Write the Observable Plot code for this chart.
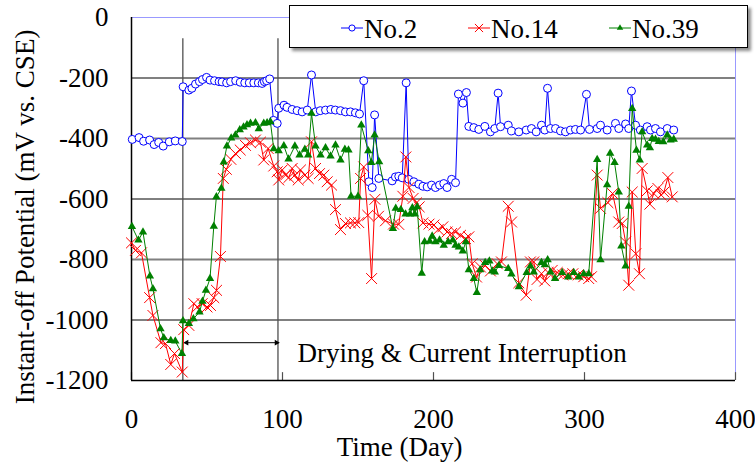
<!DOCTYPE html>
<html>
<head>
<meta charset="utf-8">
<script src="https://cdn.jsdelivr.net/npm/d3@7"></script>
<script src="https://cdn.jsdelivr.net/npm/@observablehq/plot@0.6"></script>
<style>
  html, body { margin: 0; padding: 0; background: #fff; }
  #wrap { position: relative; width: 755px; height: 465px; font-family: "Liberation Serif", "Times New Roman", serif; }
  #legend { position: absolute; left: 289px; top: 5px; width: 457px; height: 41px; background: #fff; border: 1px solid #000; box-shadow: 3px 3px 3px rgba(0,0,0,0.45); }
</style>
</head>
<body>
<div id="wrap"></div>
<script>
// ---- data (day, instant-off potential mV) ----
const seriesNames = ["No.2", "No.14", "No.39"];
const seriesColors = ["#0000ff", "#ff0000", "#008000"];
const xTicks = [0, 100, 200, 300, 400];
const yTicks = [0, -200, -400, -600, -800, -1000, -1200];
const markerDays = [34, 97];
const arrowDays = [36.5, 96];
const arrowLevel = -1075;
const annotation = "Drying & Current Interruption";
const xTitle = "Time (Day)";
const yTitle = "Instant-off Potential (mV vs. CSE)";

const no2 = [[0.5,-403],[5,-397],[8,-409],[12,-405],[15,-420],[18,-413],[21,-425],[25,-411],[29,-408],[33.6,-410],[34.2,-229],[38,-240],[40,-234],[42.4,-220],[45,-212],[47,-205],[49.7,-198],[52,-207],[55,-209],[58,-212],[60,-213],[63,-216],[65.6,-212],[69,-209],[72,-214],[75,-216],[78,-216],[81,-216],[84,-216],[86.5,-218],[88,-212],[89.5,-209],[91.5,-203],[94,-340],[96.5,-350],[97.5,-300],[101,-290],[103,-297],[106.4,-304],[109.7,-308],[113,-312],[116.4,-306],[119.2,-190],[122,-312],[125,-308],[128.5,-306],[132,-304],[135,-306],[138.4,-308],[141.7,-312],[145,-312],[148.3,-315],[151,-319],[153.8,-209],[157.2,-543],[159.4,-562],[161,-322],[163.8,-532],[172.6,-540],[174.8,-527],[177,-525],[179.3,-530],[181.9,-216],[183.6,-535],[187,-543],[190.3,-551],[193,-558],[195.8,-560],[198.7,-554],[201.3,-562],[204,-554],[206.8,-549],[209,-562],[212,-535],[214.6,-546],[216.5,-253],[219.5,-283],[221.8,-248],[223.4,-360],[226.7,-364],[230,-370],[234,-360],[237.7,-378],[240.6,-367],[242.8,-250],[244.4,-361],[249.5,-356],[251.7,-375],[256.5,-378],[261.4,-372],[264.9,-367],[268,-378],[271.5,-356],[273.7,-372],[275.5,-234],[277.5,-367],[280.8,-367],[284.1,-375],[287.4,-378],[290.7,-372],[294,-370],[297.4,-372],[301.3,-254],[303.3,-370],[308.4,-367],[310.6,-356],[315,-372],[320.5,-350],[322.7,-367],[327.2,-352],[329.3,-367],[331.1,-243],[333.8,-356],[337,-372],[341.5,-361],[343.7,-372],[347,-367],[350.3,-378],[354.8,-367],[359.1,-372]];

const no14 = [[0,-745],[2.6,-770],[6.6,-778],[12,-926],[14.2,-985],[19.5,-1075],[22.5,-1078],[26,-1147],[28.5,-1111],[33.6,-1172],[34.6,-1032],[38,-1018],[41.3,-946],[43.5,-957],[46.8,-946],[50,-957],[52.3,-952],[54.5,-926],[56.3,-902],[58.9,-790],[60.8,-532],[62.8,-502],[65.8,-469],[68.9,-450],[72,-438],[75.5,-423],[78.8,-414],[82.1,-405],[85.4,-412],[87.6,-471],[90.5,-433],[94.2,-491],[96.5,-510],[97.5,-537],[99.8,-504],[102,-521],[104.2,-529],[106.4,-499],[108.2,-521],[110.4,-537],[111.9,-504],[114.8,-521],[117,-532],[119.2,-411],[121.9,-499],[124.5,-516],[127.4,-521],[129.6,-543],[132.5,-554],[135.1,-635],[138.4,-701],[141.7,-681],[145,-679],[147.9,-679],[150.5,-678],[151.7,-532],[153.8,-494],[156.5,-654],[159,-863],[161.2,-601],[163.6,-657],[168.2,-672],[173.5,-683],[177,-684],[179.7,-591],[181.7,-461],[183.8,-562],[186.5,-598],[188.7,-613],[190.5,-626],[193,-679],[197,-683],[200.3,-686],[203.1,-701],[206.2,-692],[209,-709],[212,-714],[214.6,-709],[217.9,-720],[221.2,-731],[223.4,-725],[225.6,-814],[228.5,-858],[231.1,-825],[234.4,-820],[237.7,-838],[242.2,-814],[245,-808],[249.5,-624],[251.7,-676],[256.5,-877],[261.4,-918],[264.2,-808],[266.4,-808],[268.6,-866],[271.5,-847],[273.7,-871],[275.9,-843],[278.6,-836],[281.9,-843],[285.6,-851],[289.2,-847],[292.3,-847],[295.8,-851],[299.5,-857],[302.8,-863],[304.6,-857],[308.4,-521],[310.6,-631],[315.5,-612],[318.6,-582],[322.7,-676],[325,-681],[327.2,-742],[329.3,-885],[331.6,-577],[334,-781],[336.4,-847],[338.2,-499],[341.5,-573],[343.3,-617],[345.9,-582],[348.6,-565],[350.8,-587],[352.6,-577],[355.2,-529],[358.1,-593]];

const no39 = [[0.3,-691],[4.6,-736],[7.6,-709],[12.2,-855],[14.2,-897],[19.2,-1029],[21.4,-1059],[26,-1068],[29,-1070],[33.4,-1111],[34.1,-1003],[38,-1012],[41,-996],[45,-974],[47,-938],[49.3,-902],[52,-863],[54.5,-690],[56.2,-593],[59.5,-565],[61.1,-478],[63.2,-425],[66,-399],[68.8,-389],[71.7,-371],[74.2,-362],[76.5,-355],[78.8,-350],[82.1,-348],[84.3,-368],[87.6,-350],[89.8,-348],[92,-345],[94.2,-434],[97.5,-441],[100.9,-424],[104,-468],[108.2,-425],[111.3,-455],[114.8,-436],[117,-455],[119.2,-317],[121.9,-425],[125.2,-455],[128.5,-431],[131.8,-458],[135.1,-422],[138.4,-471],[141.3,-436],[143.7,-438],[145.4,-591],[150,-591],[152.2,-356],[156.8,-441],[158.8,-480],[161,-389],[164,-477],[173.1,-698],[175,-631],[178.4,-635],[181.5,-650],[184.5,-650],[186,-629],[187.6,-650],[189.2,-626],[192.2,-846],[194.1,-742],[197.5,-740],[199.1,-723],[201.3,-742],[204,-736],[206.8,-753],[209.7,-742],[212.8,-736],[214.6,-753],[216.8,-759],[219.4,-772],[221.4,-742],[223.4,-834],[226.7,-863],[228.7,-909],[230.9,-834],[234.2,-810],[237,-805],[238.9,-838],[240.6,-842],[243.3,-820],[249.5,-830],[251.6,-848],[256.5,-890],[261.7,-843],[264.2,-822],[266.4,-842],[271.5,-810],[273.7,-818],[275.6,-801],[277.5,-842],[280.5,-863],[285.2,-843],[289.2,-858],[292.9,-843],[296.2,-858],[299.5,-847],[302.8,-847],[308.4,-470],[310.6,-801],[315,-553],[317,-449],[319.9,-480],[322.7,-577],[324.4,-756],[327.2,-822],[329.3,-624],[331.6,-301],[334.4,-439],[336.6,-471],[338.2,-378],[341.5,-422],[343.3,-431],[344.8,-400],[347,-403],[349.2,-410],[352.1,-411],[354.8,-389],[357,-405],[359.1,-403]];

// ---- build ----
const FONT = "'Liberation Serif', 'Times New Roman', serif";
const FS = 27;
const toRows = (arr) => arr.map(([day, v]) => ({day, v}));
const s2 = toRows(no2), s14 = toRows(no14), s39 = toRows(no39);
const gridVals = yTicks.filter(v => v !== 0 && v !== -1200 && v !== -600);

const chart = Plot.plot({
  width: 755,
  height: 465,
  marginLeft: 131,
  marginRight: 20,
  marginTop: 17,
  marginBottom: 85,
  x: {domain: [0, 400]},
  y: {domain: [-1200, 0]},
  style: {fontFamily: FONT, fontSize: FS + "px", background: "#fff", color: "#000", overflow: "visible"},
  marks: [
    Plot.ruleY(gridVals, {stroke: "#808080", strokeWidth: 2}),
    Plot.ruleY([-600], {stroke: "#000", strokeWidth: 1}),
    Plot.ruleY([0], {stroke: "#9999ff", strokeWidth: 1}),
    Plot.ruleX([400], {stroke: "#9999ff", strokeWidth: 1}),
    Plot.ruleX(markerDays, {y1: -70, y2: -1200, stroke: "#505050", strokeWidth: 1.3}),
    Plot.ruleX(xTicks, {y1: -1200, y2: -1174, stroke: "#505050", strokeWidth: 1.2}),
    Plot.ruleX([0], {stroke: "#000", strokeWidth: 1.5}),
    Plot.ruleY([-1200], {stroke: "#000", strokeWidth: 1.5}),
    Plot.axisX({ticks: xTicks, tickSize: 0, tickPadding: 28, fontSize: FS, fontFamily: FONT, label: null, tickFormat: d => String(d)}),
    Plot.axisY({ticks: yTicks, tickSize: 0, tickPadding: 23, fontSize: FS, fontFamily: FONT, label: null, tickFormat: d => String(d)}),
    // annotation arrow
    Plot.link([0], {x1: () => arrowDays[0], x2: () => arrowDays[1], y1: () => arrowLevel, y2: () => arrowLevel, stroke: "#000", strokeWidth: 1}),
    Plot.dot([arrowDays[0]], {x: d => d, y: () => arrowLevel, symbol: "triangle2", r: 2.8, fill: "#000", rotate: -90}),
    Plot.dot([arrowDays[1]], {x: d => d, y: () => arrowLevel, symbol: "triangle2", r: 2.8, fill: "#000", rotate: 90}),
    Plot.text([annotation], {x: () => 110, y: () => -1111, text: d => d, textAnchor: "start", fontSize: FS, fontFamily: FONT}),
    // series No.2
    Plot.line(s2, {x: "day", y: "v", stroke: seriesColors[0], strokeWidth: 1}),
    Plot.dot(s2, {x: "day", y: "v", symbol: "circle", r: 4, stroke: seriesColors[0], fill: "#fff", strokeWidth: 1}),
    // series No.14
    Plot.line(s14, {x: "day", y: "v", stroke: seriesColors[1], strokeWidth: 1}),
    Plot.dot(s14, {x: "day", y: "v", symbol: "times", r: 5, stroke: seriesColors[1], strokeWidth: 1}),
    // series No.39
    Plot.line(s39, {x: "day", y: "v", stroke: seriesColors[2], strokeWidth: 1}),
    Plot.dot(s39, {x: "day", y: "v", symbol: "triangle2", r: 4, fill: seriesColors[2], stroke: "none"}),
    // axis titles
    Plot.text([yTitle], {frameAnchor: "left", textAnchor: "middle", text: d => d, rotate: -90, dx: -106, dy: 18, fontSize: FS, fontFamily: FONT}),
    Plot.text([xTitle], {frameAnchor: "bottom", text: d => d, dx: -34, dy: 75, fontSize: FS, fontFamily: FONT})
  ]
});

const wrap = document.getElementById("wrap");
wrap.appendChild(chart);

// legend
const legend = document.createElement("div");
legend.id = "legend";
const ns = "http://www.w3.org/2000/svg";
const lsvg = document.createElementNS(ns, "svg");
lsvg.setAttribute("width", 457);
lsvg.setAttribute("height", 41);
lsvg.style.display = "block";
const itemX = [51, 178, 319];
const symbols = ["circle", "times", "triangle2"];
seriesNames.forEach((name, i) => {
  const x0 = itemX[i], cy = 22;
  const ln = document.createElementNS(ns, "line");
  ln.setAttribute("x1", x0); ln.setAttribute("x2", x0 + 22);
  ln.setAttribute("y1", cy); ln.setAttribute("y2", cy);
  ln.setAttribute("stroke", seriesColors[i]); ln.setAttribute("stroke-width", 1);
  lsvg.appendChild(ln);
  const sym = {circle: d3.symbolCircle, times: d3.symbolTimes, triangle2: d3.symbolTriangle2}[symbols[i]];
  const p = document.createElementNS(ns, "path");
  p.setAttribute("d", d3.symbol(sym, i === 1 ? 45 : 30)());
  p.setAttribute("transform", `translate(${x0 + 11},${cy})`);
  if (i === 0) { p.setAttribute("fill", "#fff"); p.setAttribute("stroke", seriesColors[i]); }
  else if (i === 1) { p.setAttribute("fill", "none"); p.setAttribute("stroke", seriesColors[i]); }
  else { p.setAttribute("fill", seriesColors[i]); }
  lsvg.appendChild(p);
  const t = document.createElementNS(ns, "text");
  t.setAttribute("x", x0 + 23); t.setAttribute("y", 32);
  t.setAttribute("font-family", FONT);
  t.setAttribute("font-size", FS + "px");
  t.textContent = name;
  lsvg.appendChild(t);
});
legend.appendChild(lsvg);
wrap.appendChild(legend);
</script>
</body>
</html>
